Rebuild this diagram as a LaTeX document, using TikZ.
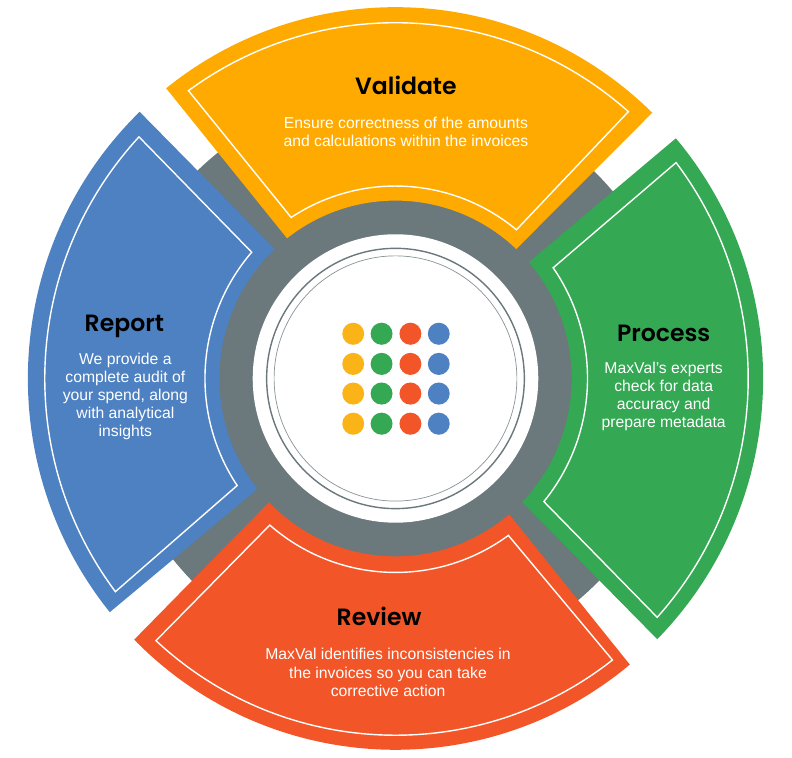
\documentclass[tikz,border=0pt]{standalone}
\usepackage{fontspec}
\setmainfont{Liberation Sans}
\newfontfamily\headfont{Poppins SemiBold}
\usepackage{tikz}
\usetikzlibrary{positioning}
\definecolor{validatecol}{HTML}{FFAA00}
\definecolor{processcol}{HTML}{34A853}
\definecolor{reviewcol}{HTML}{F25528}
\definecolor{reportcol}{HTML}{4E81C1}
\definecolor{hubcol}{HTML}{6B787C}
\definecolor{dotcol}{HTML}{FBB417}
\tikzset{
  head/.style={font=\headfont\fontsize{13.4}{16}\selectfont,text=black,inner sep=0pt},
  body/.style={font=\fontsize{8.95}{10.3}\selectfont,text=white,align=center,inner sep=0pt},
  rim/.style={draw=white,thick,line join=miter}
}
\begin{document}
\begin{tikzpicture}[xscale=.995,yscale=1.005]
\useasboundingbox (-7.95,-7.552) rectangle (7.97,7.532);
%grey ring behind the petals
\fill[hubcol] (0,0) circle (5.74);
%Validate petal
\fill[validatecol] (128.6:7.39) arc[start angle=128.6, end angle=45.7, radius=7.39] -- (46.7:3.54) arc[start angle=46.7, end angle=128, radius=3.54] -- cycle;
\draw[rim] (126:7.08) arc[start angle=126, end angle=48.6, radius=7.08] -- (50.6:3.83) arc[start angle=50.6, end angle=123.2, radius=3.83] -- cycle;
%Process petal
\fill[processcol] (40.3:7.39) arc[start angle=40.3, end angle=-44.6, radius=7.39] -- (-44:3.54) arc[start angle=-44, end angle=40.8, radius=3.54] -- cycle;
\draw[rim] (37.3:7.09) arc[start angle=37.3, end angle=-42.1, radius=7.09] -- (-39.4:3.86) arc[start angle=-39.4, end angle=34.8, radius=3.86] -- cycle;
%Review petal
\fill[reviewcol] (224.7:7.39) arc[start angle=224.7, end angle=309.6, radius=7.39] -- (310.2:3.54) arc[start angle=310.2, end angle=224.1, radius=3.54] -- cycle;
\draw[rim] (227.3:7.1) arc[start angle=227.3, end angle=307.9, radius=7.1] -- (306:3.86) arc[start angle=306, end angle=229.1, radius=3.86] -- cycle;
%Report petal
\fill[reportcol] (134.1:7.39) arc[start angle=134.1, end angle=219, radius=7.39] -- (218.4:3.54) arc[start angle=218.4, end angle=133.3, radius=3.54] -- cycle;
\draw[rim] (137:7.05) arc[start angle=137, end angle=217, radius=7.05] -- (213.8:3.83) arc[start angle=213.8, end angle=139, radius=3.83] -- cycle;
%white hub and its two rings
\fill[white] (0,0) circle (2.87);
\draw[hubcol,thick] (0,0) circle (2.59);
\draw[hubcol!80,thin] (0,0) circle (2.44);
%yellow dots
\fill[dotcol] (-.85,.89) circle (.22); \fill[dotcol] (-.85,.29) circle (.22);
\fill[dotcol] (-.85,-.3) circle (.22); \fill[dotcol] (-.85,-.9) circle (.22);
%green dots
\fill[processcol] (-.28,.89) circle (.22); \fill[processcol] (-.28,.29) circle (.22);
\fill[processcol] (-.28,-.3) circle (.22); \fill[processcol] (-.28,-.9) circle (.22);
%red dots
\fill[reviewcol] (.3,.89) circle (.22); \fill[reviewcol] (.3,.29) circle (.22);
\fill[reviewcol] (.3,-.3) circle (.22); \fill[reviewcol] (.3,-.9) circle (.22);
%blue dots
\fill[reportcol] (.87,.89) circle (.22); \fill[reportcol] (.87,.29) circle (.22);
\fill[reportcol] (.87,-.3) circle (.22); \fill[reportcol] (.87,-.9) circle (.22);
%labels
\node[head] (validate) at (.21,5.83) {Validate};
\node[body] (validatetext) at (.21,4.91) {Ensure correctness of the amounts\\and calculations within the invoices};
\node[head] (process) at (5.39,.9) {Process};
\node[body] (processtext) at (5.39,-.36) {MaxVal’s experts\\check for data\\accuracy and\\prepare metadata};
\node[head] (review) at (-.33,-4.73) {Review};
\node[body] (reviewtext) at (-.15,-5.85) {MaxVal identifies inconsistencies in\\the invoices so you can take\\corrective action};
\node[head] (report) at (-5.45,1.03) {Report};
\node[body] (reporttext) at (-5.43,-.36) {We provide a\\complete audit of\\your spend, along\\with analytical\\insights};
\end{tikzpicture}
\end{document}
